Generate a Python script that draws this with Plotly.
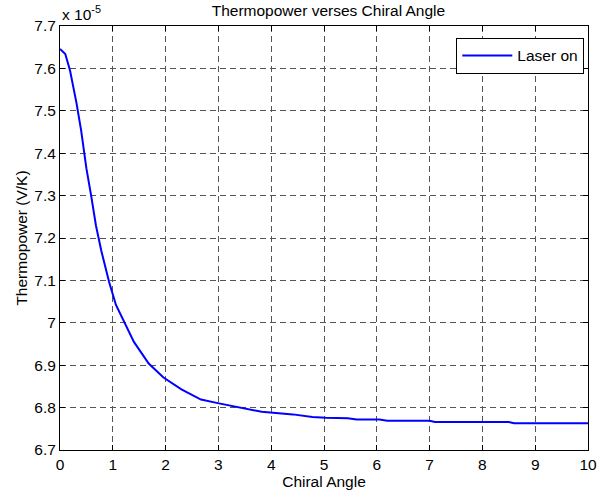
import plotly.graph_objects as go

# Chiral angle (x) and thermopower in units of 1e-5 V/K (y)
angle = [0, 0.1, 0.19, 0.31, 0.40, 0.50, 0.59, 0.68, 0.78, 0.93, 1.06, 1.21, 1.40,
         1.68, 1.96, 2.30, 2.67, 3.01, 3.48, 3.82, 4.41, 4.78, 5.03, 5.45, 5.62,
         6.05, 6.2, 7.0, 7.1, 8.5, 8.6, 10.0]
thermo = [7.646, 7.634, 7.595, 7.52, 7.454, 7.364, 7.30, 7.23, 7.171, 7.096, 7.042,
          7.002, 6.955, 6.904, 6.871, 6.843, 6.819, 6.810, 6.798, 6.790, 6.784,
          6.778, 6.776, 6.775, 6.772, 6.772, 6.769, 6.769, 6.766, 6.766, 6.763, 6.763]

xticks = list(range(0, 11))
yticks = [6.7, 6.8, 6.9, 7.0, 7.1, 7.2, 7.3, 7.4, 7.5, 7.6, 7.7]
ytext = ["6.7", "6.8", "6.9", "7", "7.1", "7.2", "7.3", "7.4", "7.5", "7.6", "7.7"]

font = "Liberation Sans, Arial, sans-serif"
fs = 15.5

fig = go.Figure()
fig.add_trace(go.Scatter(x=angle, y=thermo, mode="lines", name="Laser on",
                         line=dict(color="#0000ff", width=2)))

axis_common = dict(showline=True, linecolor="black", linewidth=1, mirror="ticks",
                   ticks="inside", ticklen=5, tickcolor="black",
                   showgrid=True, gridcolor="#555555", griddash="6px,4px", gridwidth=1,
                   zeroline=False, tickfont=dict(family=font, size=fs, color="black"))

fig.update_xaxes(range=[0, 10], tickvals=xticks,
                 title=dict(text="Chiral Angle", font=dict(family=font, size=fs, color="black"),
                            standoff=3),
                 **axis_common)
fig.update_yaxes(range=[6.7, 7.7], tickvals=yticks, ticktext=ytext,
                 title=dict(text="Thermopower (V/K)", font=dict(family=font, size=fs, color="black"),
                            standoff=2),
                 **axis_common)

fig.update_layout(
    width=606, height=500,
    margin=dict(l=60, r=9, t=26, b=50),
    paper_bgcolor="white", plot_bgcolor="white",
    title=dict(text="Thermopower verses Chiral Angle", x=0.542, xanchor="center",
               y=0.978, yanchor="middle", font=dict(family=font, size=fs, color="black")),
    showlegend=True,
    legend=dict(x=0.993, y=0.972, xanchor="right", yanchor="top", itemwidth=50,
                bgcolor="white", bordercolor="black", borderwidth=1,
                font=dict(family=font, size=fs, color="black")),
    annotations=[dict(text="x 10<sup>-5</sup>", x=0, y=1, xref="paper", yref="paper",
                      xanchor="left", yanchor="bottom", showarrow=False, yshift=1,
                      font=dict(family=font, size=fs, color="black"))],
)

fig.write_html("out.html")
